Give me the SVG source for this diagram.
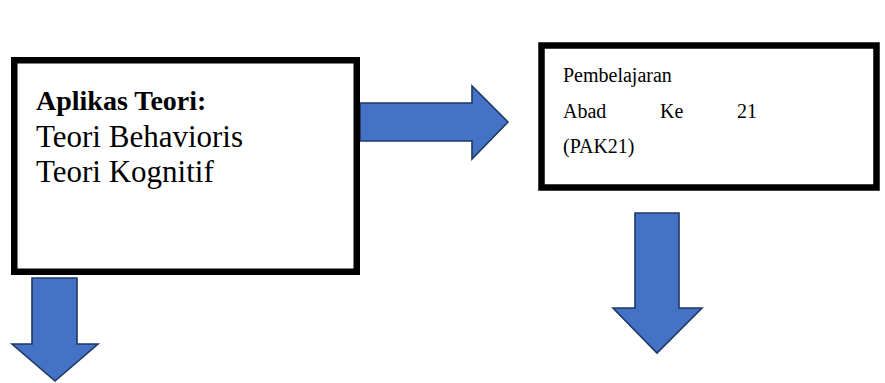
<svg xmlns="http://www.w3.org/2000/svg" width="885" height="383" viewBox="0 0 885 383">
  <defs>
    <style>
      .box { fill: #ffffff; stroke: #000000; stroke-width: 6.5; }
      .arrow { fill: #4472C4; stroke: #203864; stroke-width: 1.6; stroke-linejoin: miter; }
    </style>
  </defs>
  <rect width="885" height="383" fill="#ffffff"/>

  <!-- block arrows between the boxes -->
  <g id="connectors">
    <polygon class="arrow" points="360,103 472,103 472,86 508,122 472,159 472,141 360,141"/>
    <polygon class="arrow" points="32,278 77,278 77,344 98,344 55,381 12,344 32,344"/>
    <polygon class="arrow" points="635,213 679,213 679,308 702,308 657,353 613,308 635,308"/>
  </g>

  <g id="node-aplikasi-teori" font-family="'Liberation Serif', 'Times New Roman', serif" font-size="31" fill="#000000">
    <rect class="box" x="14.25" y="60.25" width="342.5" height="211.5"/>
    <text x="36" y="110" font-weight="bold" font-size="28">Aplikas Teori:</text>
    <text x="36" y="147">Teori Behavioris</text>
    <text x="36" y="182">Teori Kognitif</text>
  </g>

  <g id="node-pak21" font-family="'Liberation Serif', 'Times New Roman', serif" font-size="20" fill="#000000">
    <rect class="box" x="541.5" y="45.5" width="335" height="142"/>
    <text x="563" y="82">Pembelajaran</text>
    <text y="118"><tspan x="563">Abad</tspan><tspan x="660">Ke</tspan><tspan x="737">21</tspan></text>
    <text x="563" y="153">(PAK21)</text>
  </g>
</svg>
